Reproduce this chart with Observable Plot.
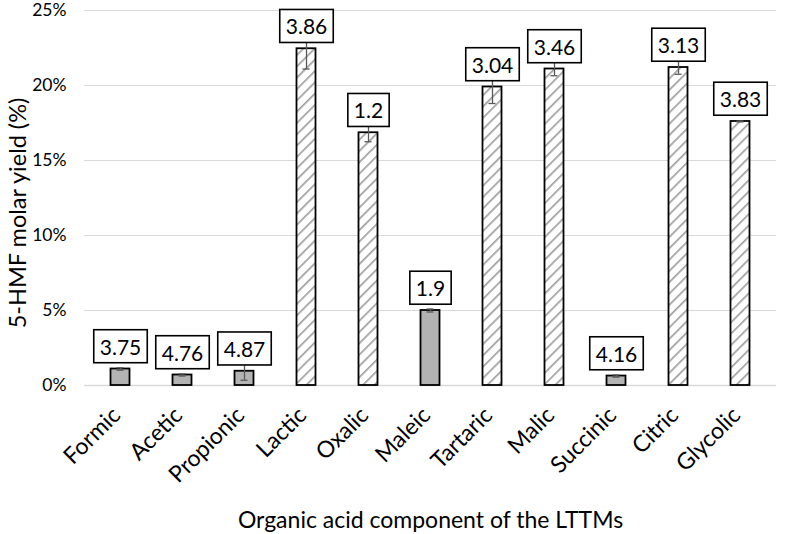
<!DOCTYPE html>
<html>
<head>
<meta charset="utf-8">
<script src="https://cdn.jsdelivr.net/npm/d3@7"></script>
<script src="https://cdn.jsdelivr.net/npm/@observablehq/plot@0.6"></script>
<style>
  html, body { margin: 0; padding: 0; background: #fff; }
  #chart { width: 785px; height: 534px; }
</style>
</head>
<body>
<div id="chart"></div>
<script>
// ---- data ----
const acids = ["Formic","Acetic","Propionic","Lactic","Oxalic","Maleic","Tartaric","Malic","Succinic","Citric","Glycolic"];
const yields = [1.1, 0.7, 0.95, 22.45, 16.85, 5.0, 19.9, 21.1, 0.63, 21.2, 17.6];   // 5-HMF molar yield, %
const errors = [0.08, 0.07, 0.6, 1.35, 0.6, 0.1, 1.1, 0.45, 0.07, 0.45, 0.03];
const pKaLabels = ["3.75","4.76","4.87","3.86","1.2","1.9","3.04","3.46","4.16","3.13","3.83"];
const hatched = [false,false,false,true,true,false,true,true,false,true,true];
const yTicks = [0, 5, 10, 15, 20, 25];

const data = acids.map((a, i) => ({
  acid: a, y: yields[i], err: errors[i], label: pKaLabels[i], hatched: hatched[i]
}));

const FONT = "Lato, 'Open Sans', sans-serif";

const chart = Plot.plot({
  width: 785,
  height: 534,
  marginLeft: 84,
  marginRight: 9,
  marginTop: 10,
  marginBottom: 149,
  style: { fontFamily: FONT, fontSize: "16px", color: "#000", background: "#fff" },
  x: { domain: acids, padding: 0, label: null },
  y: { domain: [0, 25], label: null },
  marks: [
    Plot.gridY(yTicks, { stroke: "#d9d9d9", strokeOpacity: 1, strokeWidth: 1.2 }),
    Plot.ruleY([0], { stroke: "#d9d9d9", strokeWidth: 1.5 }),
    Plot.axisY(yTicks, {
      tickFormat: d => d + "%", tickSize: 0, tickPadding: 18,
      fontSize: 17.5, label: null
    }),
    Plot.axisX({
      tickRotate: -45, tickSize: 0, tickPadding: 26, dx: -4, fontSize: 23, label: null
    }),
    Plot.barY(data, {
      x: "acid", y: "y",
      fill: d => d.hatched ? "url(#hatch)" : "#b3b3b3",
      stroke: "#000", strokeWidth: 1.8,
      insetLeft: 21.5, insetRight: 21.5
    }),
    Plot.ruleX(data, {
      x: "acid", y1: d => d.y - d.err, y2: d => d.y + d.err,
      stroke: "#595959", strokeWidth: 1.3
    }),
    Plot.tickY(data, {
      x: "acid", y: d => d.y - d.err,
      stroke: "#595959", strokeWidth: 1.3, insetLeft: 27.5, insetRight: 27.5
    }),
    Plot.tickY(data, {
      x: "acid", y: d => d.y + d.err,
      stroke: "#595959", strokeWidth: 1.3, insetLeft: 27.5, insetRight: 27.5
    }),
    Plot.text(data, {
      x: "acid", y: "y", text: "label", dy: -21,
      fontSize: 21, fill: "#000", textAnchor: "middle", lineAnchor: "middle",
      className: "vlabel"
    }),
    Plot.text(["5-HMF molar yield (%)"], {
      frameAnchor: "left", dx: -66, dy: 15, rotate: -90,
      fontSize: 23.5, fill: "#000", textAnchor: "middle", lineAnchor: "middle"
    }),
    Plot.text(["Organic acid component of the LTTMs"], {
      frameAnchor: "bottom", dy: 135,
      fontSize: 23, fill: "#000", textAnchor: "middle", lineAnchor: "middle"
    })
  ]
});

document.getElementById("chart").appendChild(chart);

// hatch pattern definition
const svg = d3.select(chart);
const defs = svg.insert("defs", ":first-child");
const pat = defs.append("pattern")
  .attr("id", "hatch")
  .attr("patternUnits", "userSpaceOnUse")
  .attr("width", 8).attr("height", 8)
  .attr("patternTransform", "rotate(45)");
pat.append("rect").attr("width", 8).attr("height", 8).attr("fill", "#fff");
pat.append("line").attr("x1", 0).attr("y1", 0).attr("x2", 0).attr("y2", 8)
  .attr("stroke", "#a0a0a0").attr("stroke-width", 3.4);

// boxes behind the data labels
svg.selectAll("g.vlabel text").each(function () {
  const bb = this.getBBox();
  const padX = 6, padY = 5;
  d3.select(this.parentNode).insert("rect", () => this)
    .attr("x", bb.x - padX).attr("y", bb.y - padY + 1)
    .attr("width", bb.width + 2 * padX).attr("height", bb.height + 2 * padY - 2)
    .attr("transform", this.getAttribute("transform"))
    .attr("fill", "#fff").attr("stroke", "#000").attr("stroke-width", 1.6);
});
</script>
</body>
</html>
